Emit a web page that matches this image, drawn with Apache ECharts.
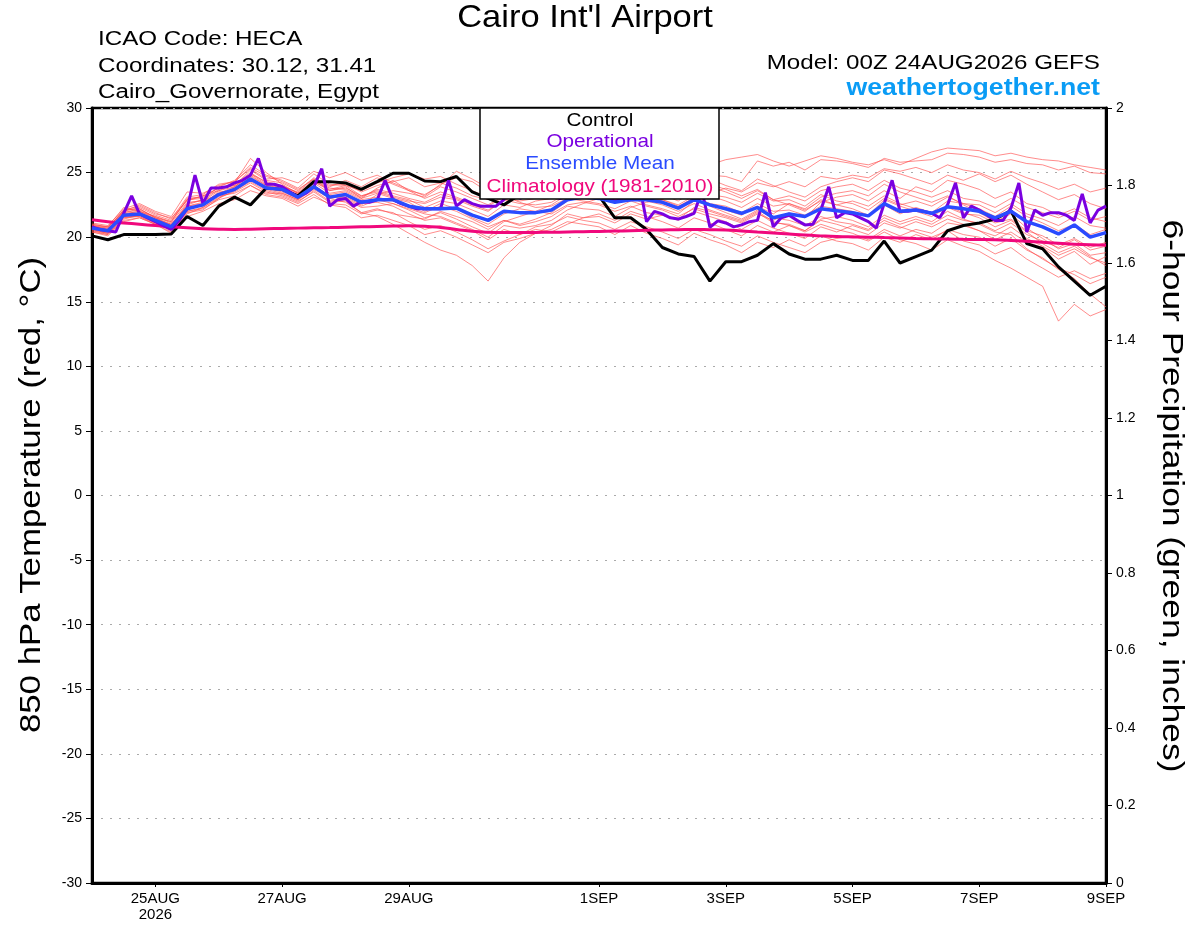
<!DOCTYPE html>
<html>
<head>
<meta charset="utf-8">
<script src="https://cdn.jsdelivr.net/npm/echarts@6/dist/echarts.min.js"></script>
<style>
  html, body { margin: 0; padding: 0; background: #fff; }
  #chart { width: 1200px; height: 927px; }
</style>
</head>
<body>
<div id="chart"></div>
<script>
// x axis tick labels (hours after 00Z 24AUG2026)
const tickHours = [24, 72, 120, 192, 240, 288, 336, 384];
const tickLabels = ['25AUG\n2026', '27AUG', '29AUG', '1SEP', '3SEP', '5SEP', '7SEP', '9SEP'];

// control run, 6-hourly
const control = [20.1,19.8,20.2,20.2,20.2,20.25,21.6,20.9,22.4,23.1,22.5,23.8,23.7,23.2,24.3,24.3,24.2,
  23.7,24.3,24.95,24.95,24.35,24.3,24.7,23.5,23.0,22.5,23.3,23.6,23.8,23.7,23.5,23.2,
  21.5,21.5,20.6,19.2,18.7,18.5,16.6,18.1,18.1,18.6,19.5,18.7,18.3,18.3,18.6,18.2,
  18.2,19.7,18.0,18.5,19.0,20.5,20.9,21.1,21.4,22.05,19.5,19.1,17.7,16.6,15.5,16.2];

// operational run, 3-hourly
const operational = [20.8,20.6,20.5,20.4,21.85,23.2,21.8,21.5,21.2,20.9,20.6,21.3,22.2,24.8,22.6,23.8,23.8,23.9,24.2,24.4,24.8,26.1,24.1,24.1,23.9,23.5,23.1,23.4,23.9,25.3,22.4,22.9,23.0,
  22.4,22.75,22.7,22.9,24.4,22.9,22.6,22.4,22.2,22.2,22.2,22.2,24.4,22.4,22.9,22.6,22.4,22.4,22.4,22.9,
  24.4,23.0,23.2,23.3,23.3,23.2,23.0,23.1,24.6,23.2,23.1,
  23.0,23.0,22.8,22.9,22.9,24.4,21.2,22.0,21.8,21.5,21.4,21.6,21.85,23.6,20.77,21.26,21.1,20.8,20.95,21.2,21.3,23.45,20.8,21.5,21.7,21.3,20.95,21.0,22.1,23.9,21.5,21.9,21.8,
  21.5,21.2,20.7,22.6,24.4,22.0,22.0,22.1,22.0,21.85,21.5,22.5,24.2,21.5,22.4,22.1,21.7,21.3,21.3,22.25,24.2,20.4,22.1,21.7,21.9,21.9,21.7,21.3,23.35,21.1,22.1,22.4];

// ensemble mean, 6-hourly
const ensMean = [20.7,20.5,21.7,21.8,21.3,20.8,22.2,22.5,23.3,23.7,24.5,23.8,23.7,23.1,23.9,23.1,23.3,
  22.7,22.9,22.9,22.4,22.2,22.2,22.25,21.7,21.3,22.0,21.9,21.9,22.1,22.9,23.1,23.0,
  22.7,22.9,22.9,22.7,22.25,22.9,22.5,22.2,21.85,22.3,21.5,21.8,21.6,22.2,22.05,21.9,
  21.65,22.6,22.0,22.1,21.85,22.35,22.2,22.0,21.5,22.0,21.2,20.8,20.25,20.95,20.0,20.35];

// climatology 1981-2010
const climatology = [21.35,21.2,21.1,21.0,20.9,20.8,20.72,20.66,20.62,20.6,20.62,20.65,20.68,20.7,20.72,20.74,20.77,
  20.8,20.83,20.86,20.88,20.85,20.75,20.6,20.45,20.38,20.36,20.36,20.37,20.38,20.4,20.42,20.44,
  20.47,20.5,20.53,20.56,20.58,20.6,20.58,20.55,20.48,20.4,20.32,20.24,20.16,20.1,20.05,20.02,
  20.0,19.97,19.94,19.9,19.87,19.85,19.83,19.82,19.8,19.75,19.68,19.6,19.52,19.46,19.42,19.4];

// 6-hour precipitation (inches)
const precip = [0,0,0,0,0,0,0,0,0,0,0,0,0,0,0,0,0,0,0,0,0,0,0,0,0,0,0,0,0,0,0,0,0,
  0,0,0,0,0,0,0,0,0,0,0,0,0,0,0,0,0,0,0,0,0,0,0,0,0,0,0,0,0,0,0,0];

// ensemble members, 6-hourly
const m01 = [20.9,20.8,22.3,22.0, 21.6,21.2,23.0,23.1, 23.8,24.0,25.2,24.4, 24.2,23.6,24.6,24.0, 24.1,23.5,24.0,24.3, 24.6,23.9,24.2,23.8, 23.2,22.9,23.6,23.4, 23.6,24.0,24.8,25.0, 25.3,24.9,25.6,25.2, 25.0,24.6,25.1,24.8, 24.7,24.3,25.9,25.5, 25.8,25.2,26.0,25.9, 25.7,25.4,26.1,25.8, 25.9,26.0,26.5,26.4, 26.2,25.8,26.0,25.7, 25.6,25.2,25.5,25.0, 24.9];
const m02 = [20.5,20.3,21.2,21.5, 21.0,20.4,21.8,22.3, 23.0,23.9,24.9,24.1, 24.0,23.4,24.3,23.6, 23.9,23.0,23.8,24.4, 23.6,23.3,24.0,25.1, 24.5,23.8,24.2,24.0, 24.4,24.7,25.0,25.5, 25.1,24.7,24.9,24.4, 24.1,23.9,24.8,25.6, 26.0,26.2,26.4,25.9, 25.5,25.9,26.3,26.1, 25.8,25.6,26.0,25.6, 26.1,26.6,26.9,26.8, 26.7,26.3,26.5,26.2, 26.0,25.9,25.6,25.4, 25.2];
const m03 = [20.4,20.1,21.3,21.5, 21.0,20.3,21.6,22.0, 22.6,22.9,23.6,23.2, 23.0,22.4,23.1,22.6, 22.5,21.8,22.1,21.9, 21.2,20.6,20.9,20.4, 19.8,19.1,19.7,20.2, 20.8,21.0,21.6,21.3, 21.1,20.6,21.2,20.8, 20.4,19.9,20.6,20.2, 19.7,19.3,20.1,19.6, 19.2,18.8,19.6,19.9, 20.1,19.7,20.4,19.8, 19.5,19.0,19.8,19.3, 18.9,18.2,17.6,16.9, 16.2,13.5,14.8,13.9, 14.4];
const m04 = [21.0,20.8,21.9,22.2, 21.5,21.0,22.4,22.6, 23.5,23.6,24.3,23.6, 23.3,22.8,23.5,22.7, 22.8,21.9,21.6,21.0, 20.3,19.6,19.0,18.6, 17.8,16.6,18.4,19.6, 20.3,20.9,21.8,21.5, 21.8,21.3,22.0,21.6, 21.2,20.7,21.5,21.1, 20.6,20.1,20.9,20.4, 20.9,20.5,21.3,21.0, 20.6,20.2,21.1,20.7, 21.2,20.8,21.4,21.0, 20.5,20.1,20.8,19.9, 19.3,18.6,19.1,18.4, 18.0];
const m05 = [20.8,20.6,22.0,22.3, 21.7,21.3,22.9,23.0, 23.9,24.4,25.6,24.8, 24.4,23.8,24.9,24.1, 24.0,23.2,23.5,23.1, 22.8,22.6,23.1,22.9, 22.4,22.0,22.9,22.6, 22.5,22.7,23.4,23.8, 23.9,23.5,24.1,23.7, 23.3,22.8,23.6,23.2, 22.8,22.3,23.0,22.4, 22.6,22.2,23.1,23.4, 23.6,23.2,24.1,23.5, 23.1,22.7,23.2,22.5, 21.9,21.2,21.8,20.7, 19.9,19.1,19.5,18.6, 18.8];
const m06 = [20.6,20.3,21.5,21.6, 21.1,20.7,22.1,22.6, 23.4,23.9,24.8,24.0, 23.8,23.2,24.2,23.4, 23.6,23.0,23.4,23.0, 22.7,22.0,22.6,22.2, 21.5,21.0,21.8,22.2, 22.0,21.8,22.5,22.7, 22.5,22.0,22.4,21.9, 21.7,21.4,22.3,22.0, 21.6,21.2,21.9,21.1, 21.0,20.5,21.4,21.6, 21.3,20.8,21.7,21.2, 21.6,21.2,22.0,21.4, 21.0,20.4,20.2,19.1, 18.3,17.6,17.1,16.4, 16.9];
const m07 = [20.9,20.7,22.1,22.4, 21.8,21.5,22.8,23.2, 23.6,24.1,25.0,24.2, 23.9,23.5,24.5,23.9, 24.4,23.9,24.6,24.1, 23.6,23.0,23.5,23.1, 22.6,22.4,23.1,22.8, 23.0,23.6,24.3,24.1, 24.0,23.6,24.4,24.9, 25.0,24.6,25.1,24.5, 24.0,23.6,24.5,24.0, 23.5,23.1,23.9,24.3, 24.6,24.3,25.2,24.9, 24.5,24.1,24.8,24.4, 24.9,24.3,24.8,24.1, 23.5,22.9,23.3,22.6, 22.2];
const m08 = [20.5,20.2,21.4,21.7, 21.2,20.6,22.0,22.3, 23.1,23.5,24.2,23.5, 23.2,22.7,23.6,22.8, 22.9,22.3,22.4,22.6, 22.2,21.8,21.6,21.1, 20.6,20.0,20.9,20.7, 20.9,21.3,22.1,22.6, 23.0,22.8,23.4,23.1, 22.9,22.5,23.2,22.6, 22.4,21.9,22.6,22.0, 22.1,21.7,22.4,22.2, 22.0,21.6,22.5,21.8, 22.3,21.9,22.8,22.6, 22.2,21.6,22.4,21.6, 21.1,20.5,21.0,20.2, 20.6];
const m09 = [20.7,20.4,21.6,21.9, 21.4,20.9,22.6,22.9, 23.7,24.2,26.1,25.0, 24.1,23.4,24.0,23.2, 23.1,22.5,23.3,23.6, 23.4,23.1,23.9,23.5, 23.0,22.5,23.2,22.7, 22.3,22.4,23.0,22.8, 22.6,22.2,22.8,22.4, 22.1,21.6,22.2,21.8, 21.5,21.1,21.8,21.3, 21.9,21.5,22.7,23.1, 23.3,22.8,23.6,23.0, 23.9,23.5,24.4,24.1, 23.7,23.0,23.5,22.6, 22.3,21.7,22.2,21.5, 21.2];
const m10 = [21.1,20.9,22.2,22.6, 22.0,21.6,23.5,23.4, 24.0,24.3,25.3,24.5, 24.6,24.2,25.1,24.6, 25.0,24.4,24.8,24.2, 23.7,23.2,24.1,24.6, 24.3,23.5,24.3,23.6, 23.4,23.2,23.7,23.3, 23.5,23.2,23.9,23.4, 23.6,23.4,24.3,24.1, 23.7,23.2,23.7,22.9, 22.5,22.0,22.9,22.5, 22.2,21.7,22.9,22.4, 22.0,21.6,22.3,21.8, 21.7,21.1,21.4,20.5, 20.1,19.4,19.9,19.2, 19.6];
const m11 = [20.6,20.4,21.8,22.0, 21.5,20.9,22.5,22.9, 23.2,23.4,24.0,23.4, 23.4,22.9,23.9,23.0, 22.7,21.9,22.2,21.8, 21.6,21.4,22.0,21.6, 21.2,20.6,21.3,21.0, 21.4,21.9,22.8,23.2, 23.4,22.9,23.4,22.8, 22.5,22.0,22.6,22.1, 21.7,21.3,22.0,21.2, 20.9,20.4,21.0,20.6, 20.3,19.8,20.6,20.1, 20.6,20.3,21.1,20.9, 20.5,19.8,20.4,19.6, 19.2,18.3,18.9,17.9, 18.5];
const m12 = [20.8,20.5,21.7,21.8, 21.2,20.7,22.3,22.4, 23.3,23.8,24.6,23.9, 23.6,23.0,23.8,23.3, 23.5,22.9,23.1,22.8, 22.3,21.9,22.4,22.0, 21.4,20.8,21.3,20.9, 21.2,21.6,22.4,22.2, 22.1,21.6,22.3,22.7, 22.9,22.4,23.0,22.4, 21.9,21.4,22.1,21.5, 21.3,20.9,21.6,21.2, 21.0,20.6,21.5,21.0, 21.4,21.0,21.7,21.3, 21.1,20.5,21.1,20.2, 19.7,19.2,19.8,19.0, 19.3];
const m13 = [20.9,20.6,21.9,22.1, 21.6,21.1,22.7,22.8, 23.6,23.9,24.7,24.0, 23.9,23.3,24.3,23.7, 24.0,23.6,24.2,24.6, 24.9,24.5,24.7,24.1, 23.6,23.1,23.8,23.4, 23.8,24.1,24.6,24.4, 24.6,24.2,24.9,24.6, 24.3,23.8,24.4,23.9, 23.5,23.0,23.6,22.9, 23.2,22.8,23.6,23.9, 24.1,23.6,24.4,23.8, 23.5,23.1,23.6,23.0, 22.8,22.3,23.0,22.3, 21.9,21.5,22.0,21.3, 21.6];
const m14 = [20.4,20.2,21.5,21.7, 21.1,20.5,21.9,22.1, 23.0,23.6,24.4,23.8, 23.5,23.0,24.0,23.2, 23.0,22.4,22.9,22.6, 22.1,21.5,21.9,21.4, 20.8,20.3,21.2,21.6, 22.0,22.5,23.3,23.5, 23.3,22.7,23.1,22.5, 22.2,21.8,22.8,22.5, 22.1,21.7,22.4,21.8, 22.6,22.1,22.8,22.5, 22.8,22.4,23.2,22.6, 22.2,21.8,22.4,21.9, 21.5,20.8,21.3,20.4, 19.5,18.8,19.3,18.5, 17.8];
const m15 = [20.7,20.5,21.8,22.0, 21.4,21.0,22.4,22.7, 23.4,23.7,24.5,23.7, 23.4,22.9,23.7,23.0, 23.2,22.6,22.7,22.4, 21.8,21.3,21.5,21.0, 20.5,19.8,20.6,20.2, 20.6,20.4,21.0,21.5, 21.6,21.1,21.8,21.4, 21.7,21.3,22.0,21.6, 21.2,20.6,21.3,20.7, 20.3,19.9,20.8,20.4, 20.9,20.5,21.3,20.8, 20.4,20.0,20.5,19.7, 19.4,18.7,19.2,18.3, 17.6,16.9,17.4,16.8, 17.2];
const m16 = [21.0,20.8,22.0,22.5, 21.9,21.4,23.1,23.3, 24.1,24.3,25.4,24.7, 24.3,23.7,24.5,23.6, 23.8,23.2,23.6,23.2, 22.9,22.3,22.8,22.6, 22.1,21.6,22.5,22.3, 22.8,23.0,23.9,24.2, 24.4,24.0,24.5,23.9, 23.6,23.1,23.8,23.3, 23.1,22.7,23.4,22.8, 22.9,22.4,23.3,22.8, 22.6,22.1,23.0,22.5, 22.8,22.4,23.1,22.6, 22.5,21.9,22.6,21.8, 21.4,20.9,21.6,20.9, 20.7];
const m17 = [20.6,20.3,21.6,21.6, 21.0,20.6,22.0,22.2, 22.9,23.2,24.0,23.3, 23.1,22.6,23.3,22.5, 22.3,21.5,21.7,21.3, 20.9,20.2,20.5,20.0, 19.4,18.8,19.6,19.9, 20.3,20.6,21.2,21.0, 20.8,20.2,20.9,20.3, 19.9,19.4,20.3,19.8, 19.4,18.8,19.6,19.2, 19.8,19.3,20.1,19.7, 19.5,19.0,20.0,19.6, 20.2,19.8,20.6,20.2, 20.0,19.3,19.9,19.0, 18.4,17.5,16.8,15.6, 14.6];
const m18 = [20.8,20.7,22.1,22.2, 21.5,21.2,22.9,23.2, 23.8,24.0,24.9,24.3, 24.0,23.4,24.4,23.8, 23.7,23.1,23.7,23.4, 23.0,22.7,23.3,23.0, 22.5,22.1,22.8,23.5, 24.0,23.9,24.3,24.0, 23.6,23.2,23.7,23.2, 22.8,22.3,23.1,23.4, 23.8,23.5,24.2,23.9, 24.3,23.9,24.7,24.5, 24.8,24.6,25.3,25.1, 25.4,25.0,25.6,25.2, 25.0,24.5,25.1,24.6, 24.2,23.7,24.1,23.5, 23.8];
const members = [m01, m02, m03, m04, m05, m06, m07, m08, m09, m10, m11, m12, m13, m14, m15, m16, m17, m18];

const FONT = '"Liberation Sans", Arial, Helvetica, sans-serif';

// pair values with forecast hour
function withHours(values, step) {
  return values.map((v, i) => [i * step, v]);
}

// plain text for the page furniture (titles, legend box), slightly stretched like the original
function label(text, x, y, size, color, align, stretch, extra) {
  return Object.assign({
    type: 'text', x: x, y: y, z: 100, scaleX: stretch,
    style: { text: text, fontSize: size, fill: color, fontFamily: FONT, align: align, verticalAlign: 'middle' }
  }, extra || {});
}

const chart = echarts.init(document.getElementById('chart'));

const series = [];
members.forEach((m, k) => {
  series.push({
    name: 'member' + (k + 1),
    type: 'line',
    data: withHours(m, 6),
    symbol: 'none',
    silent: true,
    z: 2,
    lineStyle: { color: '#ff4a4a', width: 0.8, opacity: 0.8 }
  });
});
series.push({
  name: 'Precipitation', type: 'bar', yAxisIndex: 1, data: withHours(precip, 6),
  itemStyle: { color: '#00b000' }, barWidth: 4, z: 3
});
series.push({
  name: 'Control', type: 'line', data: withHours(control, 6), symbol: 'none', z: 4,
  lineStyle: { color: '#000000', width: 3 }
});
series.push({
  name: 'Climatology (1981-2010)', type: 'line', data: withHours(climatology, 6), symbol: 'none', z: 4,
  smooth: true, lineStyle: { color: '#f0087c', width: 3 }
});
series.push({
  name: 'Operational', type: 'line', data: withHours(operational, 3), symbol: 'none', z: 5,
  lineStyle: { color: '#7a00e0', width: 3 }
});
series.push({
  name: 'Ensemble Mean', type: 'line', data: withHours(ensMean, 6), symbol: 'none', z: 6,
  lineStyle: { color: '#2a4bff', width: 3.5 }
});

const titleX = 1.13, textX = 1.24;

const option = {
  animation: false,
  backgroundColor: '#ffffff',
  textStyle: { fontFamily: FONT },
  grid: {
    left: 92, right: 94, top: 108, bottom: 44,
    show: true, borderColor: '#000', borderWidth: 2.5, backgroundColor: 'transparent'
  },
  xAxis: {
    type: 'value', min: 0, max: 384,
    axisLine: { show: true, onZero: false, lineStyle: { color: '#000', width: 3 } },
    axisTick: { show: true, customValues: tickHours, length: 4, lineStyle: { color: '#000', width: 1 } },
    axisLabel: {
      customValues: tickHours, color: '#000', fontSize: 15, fontFamily: FONT, margin: 8, lineHeight: 16,
      formatter: (v) => tickLabels[tickHours.indexOf(v)] || ''
    },
    splitLine: { show: false }
  },
  yAxis: [{
    type: 'value', min: -30, max: 30, interval: 5,
    axisLine: { show: true, onZero: false, lineStyle: { color: '#000', width: 3 } },
    axisTick: { show: true, length: 6, lineStyle: { color: '#000' } },
    axisLabel: { color: '#000', fontSize: 14, fontFamily: FONT, margin: 10 },
    splitLine: { show: true, lineStyle: { color: '#aaaaaa', type: [2, 7], width: 1 } }
  }, {
    type: 'value', min: 0, max: 2, interval: 0.2, position: 'right',
    axisLine: { show: true, onZero: false, lineStyle: { color: '#000', width: 3 } },
    axisTick: { show: true, length: 6, lineStyle: { color: '#000' } },
    axisLabel: { color: '#000', fontSize: 14, fontFamily: FONT, margin: 10 },
    splitLine: { show: false }
  }],
  graphic: [
    label("Cairo Int'l Airport", 585, 18.5, 30.5, '#000', 'center', titleX),
    label('ICAO Code: HECA', 98, 40, 19.5, '#000', 'left', textX),
    label('Coordinates: 30.12, 31.41', 98, 67, 19.5, '#000', 'left', textX),
    label('Cairo_Governorate, Egypt', 98, 93, 19.5, '#000', 'left', textX),
    label('Model: 00Z 24AUG2026 GEFS', 1100, 63.5, 19.5, '#000', 'right', textX),
    label('weathertogether.net', 1100, 88.5, 23, '#0a9cf5', 'right', 1.16),
    label('850 hPa Temperature (red, °C)', 32, 495, 29, '#000', 'center', 1.2, { rotation: Math.PI / 2 }),
    label('6-hour Precipitation (green, inches)', 1171, 496, 29.5, '#000', 'center', 1.2, { rotation: -Math.PI / 2 }),
    {
      type: 'rect', z: 99, shape: { x: 480, y: 108, width: 239, height: 91 },
      style: { fill: '#fff', stroke: '#000', lineWidth: 1.5 }
    },
    label('Control', 600, 120.5, 19, '#000', 'center', 1.09),
    label('Operational', 600, 141.5, 19, '#7a00e0', 'center', 1.09),
    label('Ensemble Mean', 600, 164, 19, '#2a4bff', 'center', 1.09),
    label('Climatology (1981-2010)', 600, 186.5, 19, '#f0087c', 'center', 1.09)
  ],
  series: series
};
option.graphic[5].style.fontWeight = 'bold';

chart.setOption(option);
</script>
</body>
</html>
